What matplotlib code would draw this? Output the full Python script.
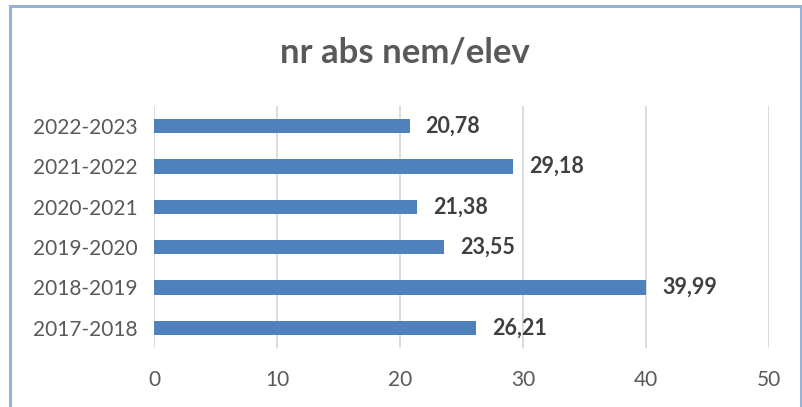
import matplotlib.pyplot as plt
from matplotlib.patches import Rectangle

# data
years = ['2017-2018', '2018-2019', '2019-2020', '2020-2021', '2021-2022', '2022-2023']
values = [26.21, 39.99, 23.55, 21.38, 29.18, 20.78]
xticks = [0, 10, 20, 30, 40, 50]

plt.rcParams['font.family'] = ['Lato', 'DejaVu Sans']

fig = plt.figure(figsize=(8.03, 4.07), dpi=100)
ax = fig.add_axes([0.1918, 0.145, 0.7659, 0.5946])

# blue frame around the chart
fig.patches.append(Rectangle((10 / 803, -0.05), 791 / 803, 1 - 6 / 407 + 0.05,
                             transform=fig.transFigure, fill=False,
                             edgecolor='#95B3D7', linewidth=2.2))

ax.barh(years, values, height=0.36, color='#4F81BD', zorder=3)
ax.set_xlim(0, 50)
ax.set_ylim(-0.5, len(years) - 0.5)
ax.set_xticks(xticks)
ax.xaxis.grid(True, color='#D9D9D9', linewidth=1.3, zorder=0)
for s in ax.spines.values():
    s.set_visible(False)
ax.tick_params(axis='both', length=0, labelsize=15, labelcolor='#595959')
ax.tick_params(axis='x', pad=16)
ax.tick_params(axis='y', pad=12)

for i, v in enumerate(values):
    ax.text(v + 1.3, i, f'{v:.2f}'.replace('.', ','), va='center', ha='left',
            fontsize=15.5, fontweight='bold', color='#404040')

fig.text(0.504, 0.872, 'nr abs nem/elev', ha='center', va='center',
         fontsize=25, fontweight='bold', color='#595959')

fig.savefig('out.png', dpi=100)
